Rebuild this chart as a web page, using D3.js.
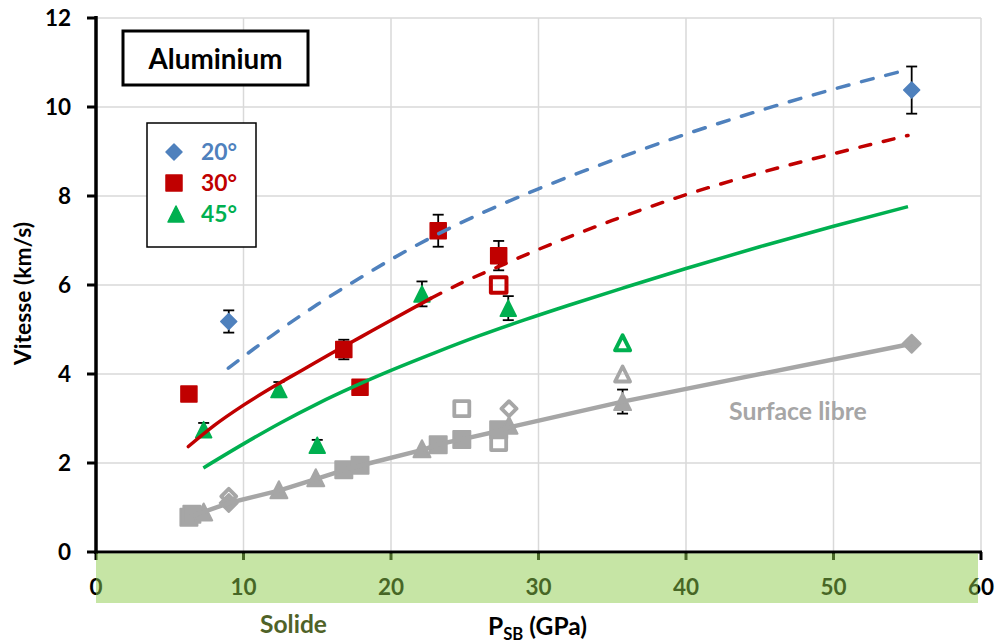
<!DOCTYPE html>
<html><head><meta charset="utf-8">
<script src="https://cdn.jsdelivr.net/npm/d3@7"></script>
<style>
body{margin:0;background:#fff}
svg{display:block}
text{font-family:Lato,"Open Sans",sans-serif;font-weight:bold}
</style>
</head><body>
<svg id="c" width="997" height="643"></svg>
<script>
// ---------- data ----------
const xTicks = [0, 10, 20, 30, 40, 50, 60];
const yTicks = [0, 2, 4, 6, 8, 10, 12];
const seriesLabels = ["20°", "30°", "45°"];
const titleText = "Aluminium";
const yTitle = "Vitesse (km/s)";
const freeSurfaceLabel = "Surface libre";
const solidLabel = "Solide";

// filled markers: [x, y, error]
const blue20 = [[9.0, 5.18, 0.25], [55.3, 10.38, 0.53]];
const red30 = [[6.3, 3.55, 0], [16.8, 4.55, 0.22], [17.9, 3.70, 0.10], [23.2, 7.22, 0.36], [27.3, 6.66, 0.33]];
const green45 = [[7.3, 2.75, 0.15], [12.4, 3.65, 0.17], [15.0, 2.40, 0.12], [22.1, 5.80, 0.28], [27.95, 5.48, 0.27]];
const red30Open = [[27.3, 6.00]];
const green45Open = [[35.7, 4.70]];

// free surface (grey) markers
const greySquares = [[6.3, 0.78], [6.5, 0.85], [16.8, 1.85], [17.9, 1.95], [23.2, 2.41], [24.8, 2.53], [27.3, 2.75]];
const greyTriangles = [[7.3, 0.90, 0], [12.4, 1.40, 0], [14.9, 1.67, 0], [22.1, 2.32, 0], [28.0, 2.85, 0], [35.7, 3.38, 0.27]];
const greyDiamonds = [[9.0, 1.10], [55.3, 4.68]];
const greyOpenDiamonds = [[9.0, 1.25], [28.0, 3.22]];
const greyOpenSquares = [[24.8, 3.22], [27.3, 2.46]];
const greyOpenTriangles = [[35.7, 4.00]];

// model curves
const blueCurve = [[8.97, 4.13], [12, 4.88], [15, 5.56], [18, 6.18], [21, 6.76], [24, 7.28], [27, 7.74], [30, 8.16], [35, 8.80], [40, 9.39], [45, 9.92], [50, 10.40], [55.05, 10.84]];
const redSolid = [[6.26, 2.37], [8, 2.84], [10, 3.30], [12.36, 3.78], [14, 4.09], [16, 4.47], [18, 4.84], [20, 5.21], [22.7, 5.70]];
const redDashed = [[22.7, 5.70], [25, 6.08], [27.2, 6.40], [30, 6.80], [35, 7.45], [40, 8.03], [45, 8.52], [50, 8.95], [55.05, 9.36]];
const greenCurve = [[7.28, 1.89], [10, 2.43], [12.5, 2.90], [15, 3.33], [17.5, 3.72], [20, 4.08], [23, 4.48], [26, 4.86], [29, 5.21], [32, 5.54], [36, 5.96], [40, 6.37], [45, 6.86], [50, 7.32], [55.05, 7.76]];
const greyLine = [[6.4, 0.80], [7.3, 0.90], [9.0, 1.10], [12.4, 1.38], [15.0, 1.65], [16.9, 1.85], [18.0, 1.95], [22.2, 2.30], [23.2, 2.42], [24.8, 2.53], [27.3, 2.72], [28.0, 2.80], [35.7, 3.38], [55.3, 4.68]];

// ---------- styles ----------
const C = {blue: "#4F81BD", red: "#C00000", green: "#00B050", grey: "#A6A6A6", grid: "#D9D9D9", olive: "#4F6228"};

const svg = d3.select("#c");
const x = d3.scaleLinear().domain([0, 60]).range([96, 981]);
const y = d3.scaleLinear().domain([0, 12]).range([552, 18]);

// grid
svg.append("g").selectAll("line").data(xTicks.slice(1)).join("line")
  .attr("x1", d => x(d)).attr("x2", d => x(d)).attr("y1", y(12)).attr("y2", y(0))
  .attr("stroke", C.grid).attr("stroke-width", 1.5);
svg.append("g").selectAll("line").data(yTicks.slice(1)).join("line")
  .attr("x1", x(0)).attr("x2", x(60)).attr("y1", d => y(d)).attr("y2", d => y(d))
  .attr("stroke", C.grid).attr("stroke-width", 1.5);

// symbols
function sym(type, s) {
  if (type === "diamond") return `M0,${-s}L${s},0L0,${s}L${-s},0Z`;
  if (type === "square") return `M${-s},${-s}H${s}V${s}H${-s}Z`;
  return `M0,${-s}L${s},${s}L${-s},${s}Z`;
}

// error bars (behind markers)
const errG = svg.append("g").attr("stroke", "#000").attr("stroke-width", 1.8).attr("fill", "none");
function errBars(data) {
  data.filter(d => d[2] > 0).forEach(d => {
    const cx = x(d[0]), t = y(d[1] + d[2]), b = y(d[1] - d[2]);
    errG.append("line").attr("x1", cx).attr("x2", cx).attr("y1", t).attr("y2", b);
    errG.append("line").attr("x1", cx - 5.5).attr("x2", cx + 5.5).attr("y1", t).attr("y2", t);
    errG.append("line").attr("x1", cx - 5.5).attr("x2", cx + 5.5).attr("y1", b).attr("y2", b);
  });
}
[blue20, red30, green45, greyTriangles].forEach(errBars);

function markers(data, type, color, s, sw, open) {
  svg.append("g").selectAll("path").data(data).join("path")
    .attr("d", sym(type, s))
    .attr("transform", d => `translate(${x(d[0])},${y(d[1])})`)
    .attr("fill", open ? "none" : color)
    .attr("stroke", color).attr("stroke-width", sw).attr("stroke-linejoin", "round");
}
// grey free-surface markers
markers(greySquares, "square", C.grey, 8.5, 2, false);
markers(greyTriangles, "triangle", C.grey, 8.5, 2, false);
markers(greyDiamonds, "diamond", C.grey, 9, 2, false);
markers(greyOpenDiamonds, "diamond", C.grey, 7.5, 3.8, true);
markers(greyOpenSquares, "square", C.grey, 7.5, 3.8, true);
markers(greyOpenTriangles, "triangle", C.grey, 7.5, 3.8, true);
// coloured
markers(blue20, "diamond", C.blue, 8, 1.5, false);
markers(red30, "square", C.red, 8, 1.5, false);
markers(green45, "triangle", C.green, 8, 1.5, false);
markers(red30Open, "square", C.red, 7.8, 4, true);
markers(green45Open, "triangle", C.green, 7.5, 4, true);

// curves on top
const line = d3.line().x(d => x(d[0])).y(d => y(d[1])).curve(d3.curveMonotoneX);
const lineStraight = d3.line().x(d => x(d[0])).y(d => y(d[1]));
svg.append("path").attr("d", lineStraight(greyLine)).attr("fill", "none").attr("stroke", C.grey).attr("stroke-width", 4.5).attr("stroke-linejoin", "round");
svg.append("path").attr("d", line(greenCurve)).attr("fill", "none").attr("stroke", C.green).attr("stroke-width", 3.5);
svg.append("path").attr("d", line(redSolid)).attr("fill", "none").attr("stroke", C.red).attr("stroke-width", 3.5).attr("stroke-linecap", "round");
svg.append("path").attr("d", line(redDashed)).attr("fill", "none").attr("stroke", C.red).attr("stroke-width", 3.5).attr("stroke-linecap", "round").attr("stroke-dasharray", "11 13");
svg.append("path").attr("d", line(blueCurve)).attr("fill", "none").attr("stroke", C.blue).attr("stroke-width", 3.5).attr("stroke-linecap", "round").attr("stroke-dasharray", "12 13");

function fit(sel, w) {
  const l = sel.node().getComputedTextLength();
  sel.attr("font-size", parseFloat(sel.attr("font-size")) * w / l);
  return sel;
}

// axes ticks + labels
const axG = svg.append("g");
axG.selectAll(".yt").data(yTicks).join("line")
  .attr("x1", 87).attr("x2", x(0)).attr("y1", d => y(d)).attr("y2", d => y(d))
  .attr("stroke", "#000").attr("stroke-width", 3);
axG.selectAll(".yl").data(yTicks).join("text")
  .attr("x", 71).attr("y", d => y(d) + 8).attr("text-anchor", "end")
  .attr("font-size", 22.5).attr("fill", "#000").text(d => d);
axG.selectAll(".xt").data(xTicks).join("line")
  .attr("x1", d => x(d)).attr("x2", d => x(d)).attr("y1", y(0)).attr("y2", 560)
  .attr("stroke", "#000").attr("stroke-width", 3);
axG.selectAll(".xl").data(xTicks).join("text")
  .attr("x", d => x(d)).attr("y", 595).attr("text-anchor", "middle")
  .attr("font-size", 22.5).attr("fill", "#000").text(d => d);
axG.append("line").attr("x1", x(0)).attr("x2", x(0)).attr("y1", 16).attr("y2", 554).attr("stroke", "#000").attr("stroke-width", 3.5);
axG.append("line").attr("x1", x(0) - 1.5).attr("x2", x(60) + 1).attr("y1", y(0)).attr("y2", y(0)).attr("stroke", "#000").attr("stroke-width", 3);

// green "solid" band over the x labels
svg.append("rect").attr("x", x(0)).attr("y", 553.5).attr("width", 978 - x(0)).attr("height", 603 - 553.5)
  .attr("fill", "#8DCB4B").attr("opacity", 0.5);

// axis titles
const yt = svg.append("text").attr("transform", "translate(31,293.5) rotate(-90)")
  .attr("text-anchor", "middle").attr("font-size", 22).attr("fill", "#000").text(yTitle);
fit(yt, 143);
const xt = svg.append("text").attr("x", 488).attr("y", 635).attr("font-size", 22).attr("fill", "#000");
xt.append("tspan").text("P");
xt.append("tspan").attr("font-size", "0.68em").attr("dy", 5).text("SB");
xt.append("tspan").attr("dy", -5).text(" (GPa)");
fit(xt, 99);
fit(svg.append("text").attr("x", 293.5).attr("y", 633).attr("text-anchor", "middle").attr("font-size", 22).attr("fill", C.olive).text(solidLabel), 67);
fit(svg.append("text").attr("x", 729).attr("y", 420).attr("font-size", 22).attr("fill", C.grey).text(freeSurfaceLabel), 138);

// title box
svg.append("rect").attr("x", 123).attr("y", 31).attr("width", 185).attr("height", 54)
  .attr("fill", "#fff").attr("stroke", "#000").attr("stroke-width", 3);
fit(svg.append("text").attr("x", 215.5).attr("y", 69).attr("text-anchor", "middle").attr("font-size", 24).attr("fill", "#000").text(titleText), 134);

// legend
svg.append("rect").attr("x", 147).attr("y", 123).attr("width", 109).attr("height", 124)
  .attr("fill", "#fff").attr("stroke", "#000").attr("stroke-width", 1.5);
const legStyle = [{type: "diamond", color: C.blue, cy: 152}, {type: "square", color: C.red, cy: 183}, {type: "triangle", color: C.green, cy: 214}];
seriesLabels.forEach((lab, i) => {
  const st = legStyle[i];
  svg.append("path").attr("d", sym(st.type, 8)).attr("transform", `translate(${i === 2 ? 176 : 174},${st.cy})`)
    .attr("fill", st.color).attr("stroke", st.color).attr("stroke-width", 1.5).attr("stroke-linejoin", "round");
  fit(svg.append("text").attr("x", 201).attr("y", st.cy + 7.5).attr("font-size", 24).attr("fill", st.color).text(lab), 36);
});
</script>
</body></html>
